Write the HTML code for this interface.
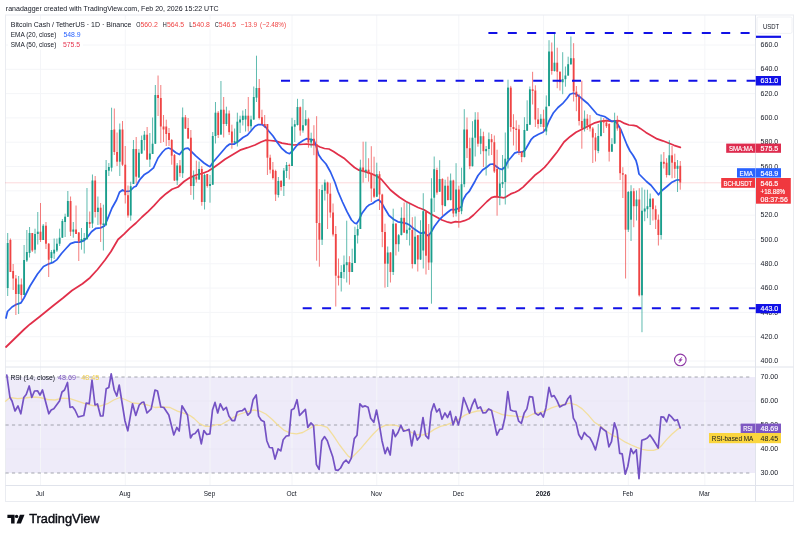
<!DOCTYPE html>
<html><head><meta charset="utf-8"><title>BCHUSDT chart</title>
<style>html,body{margin:0;padding:0;background:#fff;}body{width:800px;height:537px;overflow:hidden;font-family:"Liberation Sans",sans-serif;}svg{display:block;filter:blur(0.3px);}</style>
</head><body>
<svg width="800" height="537" viewBox="0 0 800 537" font-family="'Liberation Sans', sans-serif">
<rect width="800" height="537" fill="#ffffff"/>
<rect x="5.5" y="377.00" width="750.0" height="96.00" fill="#eeebf9"/>
<line x1="40.50" y1="15.0" x2="40.50" y2="485.5" stroke="#f4f5f8" stroke-width="1"/>
<line x1="125.25" y1="15.0" x2="125.25" y2="485.5" stroke="#f4f5f8" stroke-width="1"/>
<line x1="210.01" y1="15.0" x2="210.01" y2="485.5" stroke="#f4f5f8" stroke-width="1"/>
<line x1="292.03" y1="15.0" x2="292.03" y2="485.5" stroke="#f4f5f8" stroke-width="1"/>
<line x1="376.78" y1="15.0" x2="376.78" y2="485.5" stroke="#f4f5f8" stroke-width="1"/>
<line x1="458.80" y1="15.0" x2="458.80" y2="485.5" stroke="#f4f5f8" stroke-width="1"/>
<line x1="543.56" y1="15.0" x2="543.56" y2="485.5" stroke="#f4f5f8" stroke-width="1"/>
<line x1="628.31" y1="15.0" x2="628.31" y2="485.5" stroke="#f4f5f8" stroke-width="1"/>
<line x1="704.86" y1="15.0" x2="704.86" y2="485.5" stroke="#f4f5f8" stroke-width="1"/>
<line x1="5.5" y1="361.00" x2="755.5" y2="361.00" stroke="#f4f5f8" stroke-width="1"/>
<line x1="5.5" y1="336.70" x2="755.5" y2="336.70" stroke="#f4f5f8" stroke-width="1"/>
<line x1="5.5" y1="312.39" x2="755.5" y2="312.39" stroke="#f4f5f8" stroke-width="1"/>
<line x1="5.5" y1="288.08" x2="755.5" y2="288.08" stroke="#f4f5f8" stroke-width="1"/>
<line x1="5.5" y1="263.77" x2="755.5" y2="263.77" stroke="#f4f5f8" stroke-width="1"/>
<line x1="5.5" y1="239.46" x2="755.5" y2="239.46" stroke="#f4f5f8" stroke-width="1"/>
<line x1="5.5" y1="215.16" x2="755.5" y2="215.16" stroke="#f4f5f8" stroke-width="1"/>
<line x1="5.5" y1="190.85" x2="755.5" y2="190.85" stroke="#f4f5f8" stroke-width="1"/>
<line x1="5.5" y1="166.54" x2="755.5" y2="166.54" stroke="#f4f5f8" stroke-width="1"/>
<line x1="5.5" y1="142.23" x2="755.5" y2="142.23" stroke="#f4f5f8" stroke-width="1"/>
<line x1="5.5" y1="117.92" x2="755.5" y2="117.92" stroke="#f4f5f8" stroke-width="1"/>
<line x1="5.5" y1="93.62" x2="755.5" y2="93.62" stroke="#f4f5f8" stroke-width="1"/>
<line x1="5.5" y1="69.31" x2="755.5" y2="69.31" stroke="#f4f5f8" stroke-width="1"/>
<line x1="5.5" y1="45.00" x2="755.5" y2="45.00" stroke="#f4f5f8" stroke-width="1"/>
<line x1="5.5" y1="401.00" x2="755.5" y2="401.00" stroke="#e9e6f5" stroke-width="0.8"/>
<line x1="5.5" y1="449.00" x2="755.5" y2="449.00" stroke="#e9e6f5" stroke-width="0.8"/>
<rect x="5.5" y="15.0" width="788.0" height="486.5" fill="none" stroke="#eaecf1" stroke-width="1"/>
<line x1="755.5" y1="15.0" x2="755.5" y2="501.5" stroke="#e0e3eb" stroke-width="1"/>
<line x1="5.5" y1="367.0" x2="793.5" y2="367.0" stroke="#e0e3eb" stroke-width="1"/>
<line x1="5.5" y1="485.5" x2="793.5" y2="485.5" stroke="#e0e3eb" stroke-width="1"/>
<line x1="5.5" y1="377.00" x2="752.5" y2="377.00" stroke="#9497a1" stroke-opacity="0.85" stroke-width="1" stroke-dasharray="3.2 3.24"/>
<line x1="5.5" y1="425.00" x2="752.5" y2="425.00" stroke="#9497a1" stroke-opacity="0.85" stroke-width="1" stroke-dasharray="3.2 3.24"/>
<line x1="5.5" y1="473.00" x2="752.5" y2="473.00" stroke="#9497a1" stroke-opacity="0.85" stroke-width="1" stroke-dasharray="3.2 3.24"/>
<line x1="5.5" y1="182.8" x2="755.5" y2="182.8" stroke="#f23645" stroke-opacity="0.38" stroke-width="1" stroke-dasharray="1 1"/>
<polyline points="6.0,347.0 24.0,329.5 30.0,324.2 40.5,316.0 52.5,306.2 63.0,298.0 72.0,290.5 82.5,283.7 90.0,277.7 97.5,269.5 105.0,260.0 111.0,251.5 118.0,239.5 124.0,234.2 130.0,228.2 136.0,223.0 142.0,217.0 148.0,211.7 154.0,205.7 160.0,199.0 166.0,193.7 172.0,189.2 178.0,187.0 184.0,181.5 190.0,177.6 196.0,175.0 202.0,173.5 208.0,171.2 213.0,168.0 219.0,163.7 225.0,159.2 232.5,154.7 240.0,150.2 247.5,147.7 255.0,145.0 261.0,142.0 265.5,140.2 270.0,140.5 276.0,141.2 282.0,143.2 288.0,144.2 294.0,145.0 300.0,144.5 306.5,144.0 311.0,144.7 315.5,144.7 320.0,147.0 324.5,148.5 329.0,149.0 333.5,151.5 338.0,154.5 344.0,158.2 350.0,163.6 354.5,167.5 359.0,170.2 363.5,171.2 368.0,172.7 372.5,174.2 377.0,176.2 381.5,179.5 386.0,184.7 390.5,190.0 395.0,193.7 399.5,197.3 406.0,201.5 412.0,204.5 418.0,207.5 424.0,209.7 430.0,213.5 436.0,216.8 442.0,220.0 448.0,222.2 451.0,222.8 455.5,221.7 460.0,222.0 464.5,220.7 469.0,218.7 473.5,215.0 478.0,210.5 482.5,206.0 487.0,201.5 491.5,197.7 495.0,196.7 499.5,197.2 504.0,197.8 506.2,196.7 510.7,193.9 515.2,192.2 518.6,190.5 523.1,187.1 527.6,182.6 532.1,178.1 535.5,174.7 540.0,171.4 544.5,167.4 547.9,163.5 552.4,157.9 556.9,152.2 558.5,150.0 564.0,142.0 570.0,136.7 576.0,132.2 582.0,129.2 588.0,126.2 594.0,123.2 600.0,121.4 606.0,120.7 612.0,121.4 618.0,120.7 620.0,121.0 624.5,123.4 629.0,125.0 633.5,125.4 636.9,126.2 640.2,128.4 645.9,132.4 651.5,135.7 657.1,138.9 662.7,140.8 668.4,143.0 674.0,145.3 680.3,147.4" fill="none" stroke="#e12f49" stroke-width="1.75" stroke-opacity="1" stroke-linejoin="round" stroke-linecap="round" />
<polyline points="6.0,318.0 7.5,311.5 12.0,307.0 16.5,304.3 21.0,302.8 24.0,298.0 30.0,286.0 37.5,274.0 43.5,266.5 48.0,264.2 52.5,262.7 57.0,259.6 61.5,253.5 66.0,248.5 70.5,243.7 75.0,242.2 79.5,242.2 84.0,240.7 87.0,237.7 91.5,231.7 96.0,228.3 100.5,227.9 104.5,226.0 107.5,219.2 112.0,208.0 116.5,200.0 119.5,192.2 122.5,190.0 125.5,191.5 130.0,191.0 134.0,187.0 136.0,186.2 140.0,179.3 144.5,174.4 149.0,171.7 153.5,167.8 158.0,158.0 162.5,152.0 165.5,149.0 168.5,148.0 171.5,149.3 176.0,152.7 179.5,154.5 182.0,151.2 185.0,148.7 188.0,148.2 191.0,151.2 195.5,155.7 199.5,159.2 204.0,163.0 208.5,166.0 210.0,166.7 213.0,162.2 217.5,157.0 222.0,151.7 226.5,146.5 229.5,144.2 234.0,144.2 238.5,141.2 243.0,137.5 247.5,135.0 250.5,131.5 255.0,126.2 258.0,124.7 262.5,124.7 265.5,127.0 268.5,130.7 273.0,136.0 277.5,142.7 282.0,148.7 286.5,152.5 289.5,153.7 292.5,151.0 296.0,146.5 299.0,143.2 303.5,140.2 306.5,138.7 311.0,139.5 314.0,140.2 316.0,145.5 318.5,154.5 321.5,159.0 326.0,164.0 330.5,172.0 335.0,182.5 338.0,191.5 342.5,202.0 347.0,211.7 351.5,220.0 354.5,223.0 356.5,223.7 359.0,220.0 362.0,213.2 366.5,207.2 369.5,204.7 372.5,203.5 375.5,201.2 378.5,199.7 381.5,202.7 384.5,208.0 389.0,215.5 393.5,219.2 398.0,221.8 402.5,222.7 407.0,223.7 409.0,224.7 413.5,228.5 418.0,231.5 421.0,233.4 424.0,232.2 427.0,235.2 428.5,235.7 431.5,231.5 434.5,226.2 439.0,220.2 443.5,215.7 448.0,212.0 451.0,209.7 455.5,209.7 458.5,208.2 461.5,206.7 463.0,200.0 466.0,194.7 469.0,191.7 472.0,186.5 475.0,181.2 478.0,175.5 482.5,170.0 487.0,167.0 490.0,164.3 493.0,164.0 496.0,166.2 499.0,168.5 502.0,169.5 505.0,167.0 508.0,161.0 511.0,157.5 514.5,153.2 517.5,152.2 522.0,152.2 525.0,150.2 528.0,145.0 531.0,139.7 534.0,136.7 538.5,134.2 543.0,132.2 546.0,128.5 549.0,121.0 553.5,112.7 558.0,107.5 562.5,103.7 567.0,98.5 570.0,94.3 573.0,93.2 576.0,94.0 579.0,96.2 583.5,100.0 588.0,103.7 592.5,109.0 597.0,114.2 600.0,115.3 604.5,116.5 609.0,119.5 612.0,121.4 615.0,121.0 618.0,124.7 621.0,130.0 624.0,137.5 627.0,145.0 630.0,151.0 633.0,155.2 636.0,160.5 637.5,166.0 639.0,174.0 642.0,177.0 646.5,181.5 651.0,185.2 654.0,189.0 657.0,192.7 658.5,194.7 660.0,192.7 663.0,189.7 667.5,186.0 672.0,182.2 676.5,180.0 680.3,179.8" fill="none" stroke="#2d5cee" stroke-width="1.75" stroke-opacity="1" stroke-linejoin="round" stroke-linecap="round" />
<g id="candles">
<line x1="7.69" y1="233.0" x2="7.69" y2="296.0" stroke="#1a9e8c" stroke-width="0.9" stroke-opacity="0.78"/>
<rect x="6.77" y="243.0" width="1.84" height="45.0" fill="#1a9e8c"/>
<line x1="10.43" y1="238.5" x2="10.43" y2="272.0" stroke="#ef4444" stroke-width="0.9" stroke-opacity="0.78"/>
<rect x="9.51" y="240.0" width="1.84" height="32.0" fill="#ef4444"/>
<line x1="13.16" y1="264.0" x2="13.16" y2="290.0" stroke="#ef4444" stroke-width="0.9" stroke-opacity="0.78"/>
<rect x="12.24" y="271.0" width="1.84" height="7.5" fill="#ef4444"/>
<line x1="15.89" y1="275.0" x2="15.89" y2="315.0" stroke="#ef4444" stroke-width="0.9" stroke-opacity="0.78"/>
<rect x="14.97" y="278.5" width="1.84" height="15.5" fill="#ef4444"/>
<line x1="18.63" y1="276.0" x2="18.63" y2="314.0" stroke="#1a9e8c" stroke-width="0.9" stroke-opacity="0.78"/>
<rect x="17.71" y="284.5" width="1.84" height="9.5" fill="#1a9e8c"/>
<line x1="21.36" y1="278.5" x2="21.36" y2="300.0" stroke="#ef4444" stroke-width="0.9" stroke-opacity="0.78"/>
<rect x="20.44" y="284.5" width="1.84" height="10.5" fill="#ef4444"/>
<line x1="24.10" y1="245.0" x2="24.10" y2="295.0" stroke="#1a9e8c" stroke-width="0.9" stroke-opacity="0.78"/>
<rect x="23.18" y="260.0" width="1.84" height="35.0" fill="#1a9e8c"/>
<line x1="26.83" y1="230.0" x2="26.83" y2="262.0" stroke="#1a9e8c" stroke-width="0.9" stroke-opacity="0.78"/>
<rect x="25.91" y="252.0" width="1.84" height="8.5" fill="#1a9e8c"/>
<line x1="29.56" y1="227.0" x2="29.56" y2="257.5" stroke="#1a9e8c" stroke-width="0.9" stroke-opacity="0.78"/>
<rect x="28.64" y="233.0" width="1.84" height="20.0" fill="#1a9e8c"/>
<line x1="32.30" y1="233.0" x2="32.30" y2="252.0" stroke="#ef4444" stroke-width="0.9" stroke-opacity="0.78"/>
<rect x="31.38" y="233.0" width="1.84" height="17.5" fill="#ef4444"/>
<line x1="35.03" y1="228.7" x2="35.03" y2="253.5" stroke="#1a9e8c" stroke-width="0.9" stroke-opacity="0.78"/>
<rect x="34.11" y="234.0" width="1.84" height="15.7" fill="#1a9e8c"/>
<line x1="37.77" y1="212.0" x2="37.77" y2="244.5" stroke="#1a9e8c" stroke-width="0.9" stroke-opacity="0.78"/>
<rect x="36.85" y="231.7" width="1.84" height="2.3" fill="#1a9e8c"/>
<line x1="40.50" y1="203.0" x2="40.50" y2="242.0" stroke="#ef4444" stroke-width="0.9" stroke-opacity="0.78"/>
<rect x="39.58" y="231.7" width="1.84" height="8.3" fill="#ef4444"/>
<line x1="43.23" y1="224.0" x2="43.23" y2="240.0" stroke="#1a9e8c" stroke-width="0.9" stroke-opacity="0.78"/>
<rect x="42.31" y="225.7" width="1.84" height="14.3" fill="#1a9e8c"/>
<line x1="45.97" y1="222.0" x2="45.97" y2="249.0" stroke="#ef4444" stroke-width="0.9" stroke-opacity="0.78"/>
<rect x="45.05" y="225.7" width="1.84" height="18.0" fill="#ef4444"/>
<line x1="48.70" y1="243.0" x2="48.70" y2="277.0" stroke="#ef4444" stroke-width="0.9" stroke-opacity="0.78"/>
<rect x="47.78" y="243.7" width="1.84" height="16.0" fill="#ef4444"/>
<line x1="51.44" y1="250.0" x2="51.44" y2="262.7" stroke="#1a9e8c" stroke-width="0.9" stroke-opacity="0.78"/>
<rect x="50.52" y="252.0" width="1.84" height="6.0" fill="#1a9e8c"/>
<line x1="54.17" y1="238.5" x2="54.17" y2="259.0" stroke="#1a9e8c" stroke-width="0.9" stroke-opacity="0.78"/>
<rect x="53.25" y="249.7" width="1.84" height="3.8" fill="#1a9e8c"/>
<line x1="56.90" y1="238.5" x2="56.90" y2="252.0" stroke="#1a9e8c" stroke-width="0.9" stroke-opacity="0.78"/>
<rect x="55.98" y="243.7" width="1.84" height="6.8" fill="#1a9e8c"/>
<line x1="59.64" y1="228.7" x2="59.64" y2="246.0" stroke="#1a9e8c" stroke-width="0.9" stroke-opacity="0.78"/>
<rect x="58.72" y="237.7" width="1.84" height="6.0" fill="#1a9e8c"/>
<line x1="62.37" y1="219.0" x2="62.37" y2="238.0" stroke="#1a9e8c" stroke-width="0.9" stroke-opacity="0.78"/>
<rect x="61.45" y="221.0" width="1.84" height="16.7" fill="#1a9e8c"/>
<line x1="65.11" y1="213.7" x2="65.11" y2="237.0" stroke="#1a9e8c" stroke-width="0.9" stroke-opacity="0.78"/>
<rect x="64.19" y="216.7" width="1.84" height="5.3" fill="#1a9e8c"/>
<line x1="67.84" y1="191.0" x2="67.84" y2="217.0" stroke="#1a9e8c" stroke-width="0.9" stroke-opacity="0.78"/>
<rect x="66.92" y="201.0" width="1.84" height="15.7" fill="#1a9e8c"/>
<line x1="70.57" y1="196.5" x2="70.57" y2="236.0" stroke="#ef4444" stroke-width="0.9" stroke-opacity="0.78"/>
<rect x="69.65" y="201.0" width="1.84" height="30.7" fill="#ef4444"/>
<line x1="73.31" y1="222.0" x2="73.31" y2="237.7" stroke="#1a9e8c" stroke-width="0.9" stroke-opacity="0.78"/>
<rect x="72.39" y="229.5" width="1.84" height="2.2" fill="#1a9e8c"/>
<line x1="76.04" y1="205.5" x2="76.04" y2="234.0" stroke="#ef4444" stroke-width="0.9" stroke-opacity="0.78"/>
<rect x="75.12" y="229.5" width="1.84" height="4.5" fill="#ef4444"/>
<line x1="78.78" y1="232.0" x2="78.78" y2="261.0" stroke="#ef4444" stroke-width="0.9" stroke-opacity="0.78"/>
<rect x="77.86" y="232.5" width="1.84" height="9.0" fill="#ef4444"/>
<line x1="81.51" y1="228.0" x2="81.51" y2="249.7" stroke="#1a9e8c" stroke-width="0.9" stroke-opacity="0.78"/>
<rect x="80.59" y="239.0" width="1.84" height="2.5" fill="#1a9e8c"/>
<line x1="84.24" y1="233.0" x2="84.24" y2="253.5" stroke="#1a9e8c" stroke-width="0.9" stroke-opacity="0.78"/>
<rect x="83.32" y="238.0" width="1.84" height="2.0" fill="#1a9e8c"/>
<line x1="86.98" y1="188.0" x2="86.98" y2="240.0" stroke="#1a9e8c" stroke-width="0.9" stroke-opacity="0.78"/>
<rect x="86.06" y="222.0" width="1.84" height="17.0" fill="#1a9e8c"/>
<line x1="89.71" y1="211.5" x2="89.71" y2="228.0" stroke="#ef4444" stroke-width="0.9" stroke-opacity="0.78"/>
<rect x="88.79" y="222.0" width="1.84" height="2.0" fill="#ef4444"/>
<line x1="92.45" y1="174.5" x2="92.45" y2="228.0" stroke="#1a9e8c" stroke-width="0.9" stroke-opacity="0.78"/>
<rect x="91.53" y="180.5" width="1.84" height="43.0" fill="#1a9e8c"/>
<line x1="95.18" y1="176.0" x2="95.18" y2="217.5" stroke="#ef4444" stroke-width="0.9" stroke-opacity="0.78"/>
<rect x="94.26" y="180.5" width="1.84" height="31.5" fill="#ef4444"/>
<line x1="97.91" y1="196.5" x2="97.91" y2="225.0" stroke="#1a9e8c" stroke-width="0.9" stroke-opacity="0.78"/>
<rect x="96.99" y="207.7" width="1.84" height="4.3" fill="#1a9e8c"/>
<line x1="100.65" y1="203.0" x2="100.65" y2="242.0" stroke="#ef4444" stroke-width="0.9" stroke-opacity="0.78"/>
<rect x="99.73" y="207.7" width="1.84" height="16.8" fill="#ef4444"/>
<line x1="103.38" y1="204.7" x2="103.38" y2="250.5" stroke="#1a9e8c" stroke-width="0.9" stroke-opacity="0.78"/>
<rect x="102.46" y="223.5" width="1.84" height="1.5" fill="#1a9e8c"/>
<line x1="106.12" y1="160.0" x2="106.12" y2="226.0" stroke="#1a9e8c" stroke-width="0.9" stroke-opacity="0.78"/>
<rect x="105.20" y="170.0" width="1.84" height="55.0" fill="#1a9e8c"/>
<line x1="108.85" y1="163.0" x2="108.85" y2="176.0" stroke="#1a9e8c" stroke-width="0.9" stroke-opacity="0.78"/>
<rect x="107.93" y="167.0" width="1.84" height="3.7" fill="#1a9e8c"/>
<line x1="111.58" y1="107.7" x2="111.58" y2="171.5" stroke="#1a9e8c" stroke-width="0.9" stroke-opacity="0.78"/>
<rect x="110.66" y="130.0" width="1.84" height="37.7" fill="#1a9e8c"/>
<line x1="114.32" y1="108.5" x2="114.32" y2="155.0" stroke="#ef4444" stroke-width="0.9" stroke-opacity="0.78"/>
<rect x="113.40" y="129.5" width="1.84" height="22.5" fill="#ef4444"/>
<line x1="117.05" y1="132.5" x2="117.05" y2="166.0" stroke="#ef4444" stroke-width="0.9" stroke-opacity="0.78"/>
<rect x="116.13" y="152.0" width="1.84" height="9.7" fill="#ef4444"/>
<line x1="119.79" y1="123.5" x2="119.79" y2="176.0" stroke="#1a9e8c" stroke-width="0.9" stroke-opacity="0.78"/>
<rect x="118.87" y="129.5" width="1.84" height="32.2" fill="#1a9e8c"/>
<line x1="122.52" y1="121.0" x2="122.52" y2="166.0" stroke="#ef4444" stroke-width="0.9" stroke-opacity="0.78"/>
<rect x="121.60" y="129.5" width="1.84" height="35.2" fill="#ef4444"/>
<line x1="125.25" y1="146.0" x2="125.25" y2="203.5" stroke="#ef4444" stroke-width="0.9" stroke-opacity="0.78"/>
<rect x="124.33" y="164.7" width="1.84" height="30.5" fill="#ef4444"/>
<line x1="127.99" y1="185.5" x2="127.99" y2="217.7" stroke="#ef4444" stroke-width="0.9" stroke-opacity="0.78"/>
<rect x="127.07" y="195.2" width="1.84" height="20.3" fill="#ef4444"/>
<line x1="130.72" y1="181.7" x2="130.72" y2="220.7" stroke="#1a9e8c" stroke-width="0.9" stroke-opacity="0.78"/>
<rect x="129.80" y="186.2" width="1.84" height="29.3" fill="#1a9e8c"/>
<line x1="133.46" y1="140.0" x2="133.46" y2="184.0" stroke="#1a9e8c" stroke-width="0.9" stroke-opacity="0.78"/>
<rect x="132.54" y="149.0" width="1.84" height="35.0" fill="#1a9e8c"/>
<line x1="136.19" y1="137.0" x2="136.19" y2="183.5" stroke="#ef4444" stroke-width="0.9" stroke-opacity="0.78"/>
<rect x="135.27" y="149.0" width="1.84" height="27.7" fill="#ef4444"/>
<line x1="138.92" y1="149.0" x2="138.92" y2="178.0" stroke="#1a9e8c" stroke-width="0.9" stroke-opacity="0.78"/>
<rect x="138.00" y="152.7" width="1.84" height="24.8" fill="#1a9e8c"/>
<line x1="141.66" y1="135.5" x2="141.66" y2="154.0" stroke="#1a9e8c" stroke-width="0.9" stroke-opacity="0.78"/>
<rect x="140.74" y="140.0" width="1.84" height="13.5" fill="#1a9e8c"/>
<line x1="144.39" y1="131.0" x2="144.39" y2="150.5" stroke="#1a9e8c" stroke-width="0.9" stroke-opacity="0.78"/>
<rect x="143.47" y="134.7" width="1.84" height="5.3" fill="#1a9e8c"/>
<line x1="147.13" y1="127.0" x2="147.13" y2="160.0" stroke="#ef4444" stroke-width="0.9" stroke-opacity="0.78"/>
<rect x="146.21" y="134.7" width="1.84" height="24.8" fill="#ef4444"/>
<line x1="149.86" y1="133.0" x2="149.86" y2="167.0" stroke="#1a9e8c" stroke-width="0.9" stroke-opacity="0.78"/>
<rect x="148.94" y="153.5" width="1.84" height="6.0" fill="#1a9e8c"/>
<line x1="152.59" y1="117.5" x2="152.59" y2="154.0" stroke="#1a9e8c" stroke-width="0.9" stroke-opacity="0.78"/>
<rect x="151.67" y="143.7" width="1.84" height="10.3" fill="#1a9e8c"/>
<line x1="155.33" y1="85.0" x2="155.33" y2="144.0" stroke="#1a9e8c" stroke-width="0.9" stroke-opacity="0.78"/>
<rect x="154.41" y="95.0" width="1.84" height="48.7" fill="#1a9e8c"/>
<line x1="158.06" y1="75.5" x2="158.06" y2="116.0" stroke="#ef4444" stroke-width="0.9" stroke-opacity="0.78"/>
<rect x="157.14" y="95.0" width="1.84" height="3.0" fill="#ef4444"/>
<line x1="160.80" y1="85.0" x2="160.80" y2="143.0" stroke="#ef4444" stroke-width="0.9" stroke-opacity="0.78"/>
<rect x="159.88" y="98.0" width="1.84" height="28.5" fill="#ef4444"/>
<line x1="163.53" y1="115.0" x2="163.53" y2="142.0" stroke="#ef4444" stroke-width="0.9" stroke-opacity="0.78"/>
<rect x="162.61" y="126.5" width="1.84" height="3.0" fill="#ef4444"/>
<line x1="166.26" y1="119.7" x2="166.26" y2="146.0" stroke="#ef4444" stroke-width="0.9" stroke-opacity="0.78"/>
<rect x="165.34" y="126.5" width="1.84" height="7.5" fill="#ef4444"/>
<line x1="169.00" y1="128.0" x2="169.00" y2="146.0" stroke="#ef4444" stroke-width="0.9" stroke-opacity="0.78"/>
<rect x="168.08" y="133.0" width="1.84" height="7.0" fill="#ef4444"/>
<line x1="171.73" y1="139.0" x2="171.73" y2="164.7" stroke="#ef4444" stroke-width="0.9" stroke-opacity="0.78"/>
<rect x="170.81" y="140.0" width="1.84" height="15.7" fill="#ef4444"/>
<line x1="174.47" y1="154.0" x2="174.47" y2="181.0" stroke="#ef4444" stroke-width="0.9" stroke-opacity="0.78"/>
<rect x="173.55" y="155.0" width="1.84" height="25.5" fill="#ef4444"/>
<line x1="177.20" y1="163.0" x2="177.20" y2="185.0" stroke="#1a9e8c" stroke-width="0.9" stroke-opacity="0.78"/>
<rect x="176.28" y="165.5" width="1.84" height="15.0" fill="#1a9e8c"/>
<line x1="179.93" y1="160.0" x2="179.93" y2="176.7" stroke="#ef4444" stroke-width="0.9" stroke-opacity="0.78"/>
<rect x="179.01" y="165.5" width="1.84" height="7.5" fill="#ef4444"/>
<line x1="182.67" y1="107.5" x2="182.67" y2="178.0" stroke="#1a9e8c" stroke-width="0.9" stroke-opacity="0.78"/>
<rect x="181.75" y="117.3" width="1.84" height="55.9" fill="#1a9e8c"/>
<line x1="185.40" y1="115.0" x2="185.40" y2="129.0" stroke="#ef4444" stroke-width="0.9" stroke-opacity="0.78"/>
<rect x="184.48" y="117.3" width="1.84" height="11.3" fill="#ef4444"/>
<line x1="188.14" y1="118.0" x2="188.14" y2="139.0" stroke="#ef4444" stroke-width="0.9" stroke-opacity="0.78"/>
<rect x="187.22" y="128.0" width="1.84" height="10.5" fill="#ef4444"/>
<line x1="190.87" y1="130.0" x2="190.87" y2="195.0" stroke="#ef4444" stroke-width="0.9" stroke-opacity="0.78"/>
<rect x="189.95" y="137.7" width="1.84" height="48.3" fill="#ef4444"/>
<line x1="193.60" y1="170.5" x2="193.60" y2="199.7" stroke="#1a9e8c" stroke-width="0.9" stroke-opacity="0.78"/>
<rect x="192.68" y="176.5" width="1.84" height="9.5" fill="#1a9e8c"/>
<line x1="196.34" y1="160.7" x2="196.34" y2="182.5" stroke="#ef4444" stroke-width="0.9" stroke-opacity="0.78"/>
<rect x="195.42" y="176.5" width="1.84" height="3.0" fill="#ef4444"/>
<line x1="199.07" y1="161.5" x2="199.07" y2="180.0" stroke="#1a9e8c" stroke-width="0.9" stroke-opacity="0.78"/>
<rect x="198.15" y="169.0" width="1.84" height="10.5" fill="#1a9e8c"/>
<line x1="201.81" y1="166.0" x2="201.81" y2="205.7" stroke="#ef4444" stroke-width="0.9" stroke-opacity="0.78"/>
<rect x="200.89" y="169.0" width="1.84" height="33.0" fill="#ef4444"/>
<line x1="204.54" y1="173.5" x2="204.54" y2="209.5" stroke="#1a9e8c" stroke-width="0.9" stroke-opacity="0.78"/>
<rect x="203.62" y="175.0" width="1.84" height="27.0" fill="#1a9e8c"/>
<line x1="207.27" y1="174.0" x2="207.27" y2="187.7" stroke="#ef4444" stroke-width="0.9" stroke-opacity="0.78"/>
<rect x="206.35" y="174.0" width="1.84" height="12.0" fill="#ef4444"/>
<line x1="210.01" y1="175.0" x2="210.01" y2="202.7" stroke="#1a9e8c" stroke-width="0.9" stroke-opacity="0.78"/>
<rect x="209.09" y="184.0" width="1.84" height="2.0" fill="#1a9e8c"/>
<line x1="212.74" y1="132.0" x2="212.74" y2="185.0" stroke="#1a9e8c" stroke-width="0.9" stroke-opacity="0.78"/>
<rect x="211.82" y="136.0" width="1.84" height="48.7" fill="#1a9e8c"/>
<line x1="215.48" y1="102.0" x2="215.48" y2="143.5" stroke="#1a9e8c" stroke-width="0.9" stroke-opacity="0.78"/>
<rect x="214.56" y="112.7" width="1.84" height="23.3" fill="#1a9e8c"/>
<line x1="218.21" y1="111.0" x2="218.21" y2="138.0" stroke="#ef4444" stroke-width="0.9" stroke-opacity="0.78"/>
<rect x="217.29" y="112.7" width="1.84" height="22.3" fill="#ef4444"/>
<line x1="220.94" y1="81.0" x2="220.94" y2="135.0" stroke="#1a9e8c" stroke-width="0.9" stroke-opacity="0.78"/>
<rect x="220.02" y="109.7" width="1.84" height="24.8" fill="#1a9e8c"/>
<line x1="223.68" y1="97.0" x2="223.68" y2="137.5" stroke="#ef4444" stroke-width="0.9" stroke-opacity="0.78"/>
<rect x="222.76" y="109.7" width="1.84" height="14.3" fill="#ef4444"/>
<line x1="226.41" y1="106.7" x2="226.41" y2="126.0" stroke="#1a9e8c" stroke-width="0.9" stroke-opacity="0.78"/>
<rect x="225.49" y="113.5" width="1.84" height="10.5" fill="#1a9e8c"/>
<line x1="229.15" y1="110.5" x2="229.15" y2="135.0" stroke="#ef4444" stroke-width="0.9" stroke-opacity="0.78"/>
<rect x="228.23" y="113.5" width="1.84" height="18.7" fill="#ef4444"/>
<line x1="231.88" y1="124.7" x2="231.88" y2="148.7" stroke="#ef4444" stroke-width="0.9" stroke-opacity="0.78"/>
<rect x="230.96" y="131.5" width="1.84" height="11.2" fill="#ef4444"/>
<line x1="234.61" y1="128.5" x2="234.61" y2="143.0" stroke="#1a9e8c" stroke-width="0.9" stroke-opacity="0.78"/>
<rect x="233.69" y="141.2" width="1.84" height="1.5" fill="#1a9e8c"/>
<line x1="237.35" y1="112.7" x2="237.35" y2="146.5" stroke="#1a9e8c" stroke-width="0.9" stroke-opacity="0.78"/>
<rect x="236.43" y="121.7" width="1.84" height="21.0" fill="#1a9e8c"/>
<line x1="240.08" y1="115.7" x2="240.08" y2="133.0" stroke="#1a9e8c" stroke-width="0.9" stroke-opacity="0.78"/>
<rect x="239.16" y="119.5" width="1.84" height="3.0" fill="#1a9e8c"/>
<line x1="242.82" y1="110.5" x2="242.82" y2="125.5" stroke="#1a9e8c" stroke-width="0.9" stroke-opacity="0.78"/>
<rect x="241.90" y="115.7" width="1.84" height="4.3" fill="#1a9e8c"/>
<line x1="245.55" y1="109.0" x2="245.55" y2="131.5" stroke="#1a9e8c" stroke-width="0.9" stroke-opacity="0.78"/>
<rect x="244.63" y="115.7" width="1.84" height="3.8" fill="#1a9e8c"/>
<line x1="248.28" y1="97.0" x2="248.28" y2="131.5" stroke="#ef4444" stroke-width="0.9" stroke-opacity="0.78"/>
<rect x="247.36" y="115.7" width="1.84" height="10.5" fill="#ef4444"/>
<line x1="251.02" y1="115.7" x2="251.02" y2="130.0" stroke="#1a9e8c" stroke-width="0.9" stroke-opacity="0.78"/>
<rect x="250.10" y="119.5" width="1.84" height="6.7" fill="#1a9e8c"/>
<line x1="253.75" y1="86.5" x2="253.75" y2="120.0" stroke="#1a9e8c" stroke-width="0.9" stroke-opacity="0.78"/>
<rect x="252.83" y="97.0" width="1.84" height="22.5" fill="#1a9e8c"/>
<line x1="256.49" y1="55.7" x2="256.49" y2="102.0" stroke="#1a9e8c" stroke-width="0.9" stroke-opacity="0.78"/>
<rect x="255.57" y="88.0" width="1.84" height="9.7" fill="#1a9e8c"/>
<line x1="259.22" y1="79.0" x2="259.22" y2="119.5" stroke="#ef4444" stroke-width="0.9" stroke-opacity="0.78"/>
<rect x="258.30" y="88.0" width="1.84" height="30.0" fill="#ef4444"/>
<line x1="261.95" y1="109.7" x2="261.95" y2="125.0" stroke="#ef4444" stroke-width="0.9" stroke-opacity="0.78"/>
<rect x="261.03" y="117.2" width="1.84" height="6.8" fill="#ef4444"/>
<line x1="264.69" y1="115.0" x2="264.69" y2="128.0" stroke="#ef4444" stroke-width="0.9" stroke-opacity="0.78"/>
<rect x="263.77" y="124.0" width="1.84" height="2.0" fill="#ef4444"/>
<line x1="267.42" y1="124.0" x2="267.42" y2="175.0" stroke="#ef4444" stroke-width="0.9" stroke-opacity="0.78"/>
<rect x="266.50" y="124.0" width="1.84" height="33.7" fill="#ef4444"/>
<line x1="270.16" y1="154.7" x2="270.16" y2="173.5" stroke="#ef4444" stroke-width="0.9" stroke-opacity="0.78"/>
<rect x="269.24" y="157.7" width="1.84" height="12.0" fill="#ef4444"/>
<line x1="272.89" y1="162.0" x2="272.89" y2="179.5" stroke="#ef4444" stroke-width="0.9" stroke-opacity="0.78"/>
<rect x="271.97" y="169.7" width="1.84" height="8.3" fill="#ef4444"/>
<line x1="275.62" y1="169.7" x2="275.62" y2="201.0" stroke="#ef4444" stroke-width="0.9" stroke-opacity="0.78"/>
<rect x="274.70" y="171.0" width="1.84" height="23.5" fill="#ef4444"/>
<line x1="278.36" y1="177.0" x2="278.36" y2="197.5" stroke="#1a9e8c" stroke-width="0.9" stroke-opacity="0.78"/>
<rect x="277.44" y="181.0" width="1.84" height="14.0" fill="#1a9e8c"/>
<line x1="281.09" y1="180.0" x2="281.09" y2="190.7" stroke="#ef4444" stroke-width="0.9" stroke-opacity="0.78"/>
<rect x="280.17" y="181.0" width="1.84" height="6.0" fill="#ef4444"/>
<line x1="283.83" y1="168.0" x2="283.83" y2="196.0" stroke="#1a9e8c" stroke-width="0.9" stroke-opacity="0.78"/>
<rect x="282.91" y="170.5" width="1.84" height="15.5" fill="#1a9e8c"/>
<line x1="286.56" y1="162.0" x2="286.56" y2="178.0" stroke="#1a9e8c" stroke-width="0.9" stroke-opacity="0.78"/>
<rect x="285.64" y="165.0" width="1.84" height="6.0" fill="#1a9e8c"/>
<line x1="289.29" y1="163.7" x2="289.29" y2="179.5" stroke="#ef4444" stroke-width="0.9" stroke-opacity="0.78"/>
<rect x="288.37" y="165.0" width="1.84" height="1.0" fill="#ef4444"/>
<line x1="292.03" y1="117.8" x2="292.03" y2="166.0" stroke="#1a9e8c" stroke-width="0.9" stroke-opacity="0.78"/>
<rect x="291.11" y="126.5" width="1.84" height="39.5" fill="#1a9e8c"/>
<line x1="294.76" y1="120.0" x2="294.76" y2="142.0" stroke="#1a9e8c" stroke-width="0.9" stroke-opacity="0.78"/>
<rect x="293.84" y="124.2" width="1.84" height="2.5" fill="#1a9e8c"/>
<line x1="297.50" y1="98.8" x2="297.50" y2="125.5" stroke="#1a9e8c" stroke-width="0.9" stroke-opacity="0.78"/>
<rect x="296.58" y="107.0" width="1.84" height="18.0" fill="#1a9e8c"/>
<line x1="300.23" y1="106.5" x2="300.23" y2="135.7" stroke="#ef4444" stroke-width="0.9" stroke-opacity="0.78"/>
<rect x="299.31" y="107.2" width="1.84" height="23.3" fill="#ef4444"/>
<line x1="302.96" y1="99.0" x2="302.96" y2="132.7" stroke="#1a9e8c" stroke-width="0.9" stroke-opacity="0.78"/>
<rect x="302.04" y="125.2" width="1.84" height="5.3" fill="#1a9e8c"/>
<line x1="305.70" y1="110.2" x2="305.70" y2="126.0" stroke="#1a9e8c" stroke-width="0.9" stroke-opacity="0.78"/>
<rect x="304.78" y="119.2" width="1.84" height="6.0" fill="#1a9e8c"/>
<line x1="308.43" y1="117.7" x2="308.43" y2="147.7" stroke="#ef4444" stroke-width="0.9" stroke-opacity="0.78"/>
<rect x="307.51" y="119.2" width="1.84" height="23.3" fill="#ef4444"/>
<line x1="311.17" y1="132.7" x2="311.17" y2="147.7" stroke="#1a9e8c" stroke-width="0.9" stroke-opacity="0.78"/>
<rect x="310.25" y="138.7" width="1.84" height="3.8" fill="#1a9e8c"/>
<line x1="313.90" y1="125.2" x2="313.90" y2="155.2" stroke="#ef4444" stroke-width="0.9" stroke-opacity="0.78"/>
<rect x="312.98" y="138.7" width="1.84" height="5.3" fill="#ef4444"/>
<line x1="316.63" y1="116.2" x2="316.63" y2="260.7" stroke="#ef4444" stroke-width="0.9" stroke-opacity="0.78"/>
<rect x="315.71" y="144.0" width="1.84" height="79.0" fill="#ef4444"/>
<line x1="319.37" y1="189.0" x2="319.37" y2="266.7" stroke="#ef4444" stroke-width="0.9" stroke-opacity="0.78"/>
<rect x="318.45" y="223.0" width="1.84" height="16.7" fill="#ef4444"/>
<line x1="322.10" y1="184.7" x2="322.10" y2="245.0" stroke="#1a9e8c" stroke-width="0.9" stroke-opacity="0.78"/>
<rect x="321.18" y="190.0" width="1.84" height="49.7" fill="#1a9e8c"/>
<line x1="324.84" y1="179.5" x2="324.84" y2="200.5" stroke="#1a9e8c" stroke-width="0.9" stroke-opacity="0.78"/>
<rect x="323.92" y="182.5" width="1.84" height="8.2" fill="#1a9e8c"/>
<line x1="327.57" y1="181.7" x2="327.57" y2="229.0" stroke="#ef4444" stroke-width="0.9" stroke-opacity="0.78"/>
<rect x="326.65" y="182.5" width="1.84" height="11.2" fill="#ef4444"/>
<line x1="330.30" y1="183.2" x2="330.30" y2="217.7" stroke="#ef4444" stroke-width="0.9" stroke-opacity="0.78"/>
<rect x="329.38" y="193.7" width="1.84" height="18.8" fill="#ef4444"/>
<line x1="333.04" y1="203.5" x2="333.04" y2="236.5" stroke="#ef4444" stroke-width="0.9" stroke-opacity="0.78"/>
<rect x="332.12" y="212.5" width="1.84" height="22.0" fill="#ef4444"/>
<line x1="335.77" y1="226.0" x2="335.77" y2="306.5" stroke="#ef4444" stroke-width="0.9" stroke-opacity="0.78"/>
<rect x="334.85" y="234.0" width="1.84" height="41.7" fill="#ef4444"/>
<line x1="338.51" y1="258.5" x2="338.51" y2="285.5" stroke="#ef4444" stroke-width="0.9" stroke-opacity="0.78"/>
<rect x="337.59" y="275.7" width="1.84" height="2.3" fill="#ef4444"/>
<line x1="341.24" y1="265.2" x2="341.24" y2="291.5" stroke="#1a9e8c" stroke-width="0.9" stroke-opacity="0.78"/>
<rect x="340.32" y="272.0" width="1.84" height="6.0" fill="#1a9e8c"/>
<line x1="343.97" y1="255.5" x2="343.97" y2="278.7" stroke="#1a9e8c" stroke-width="0.9" stroke-opacity="0.78"/>
<rect x="343.05" y="264.5" width="1.84" height="7.5" fill="#1a9e8c"/>
<line x1="346.71" y1="220.7" x2="346.71" y2="282.5" stroke="#1a9e8c" stroke-width="0.9" stroke-opacity="0.78"/>
<rect x="345.79" y="262.2" width="1.84" height="3.0" fill="#1a9e8c"/>
<line x1="349.44" y1="256.2" x2="349.44" y2="284.7" stroke="#ef4444" stroke-width="0.9" stroke-opacity="0.78"/>
<rect x="348.52" y="262.2" width="1.84" height="9.8" fill="#ef4444"/>
<line x1="352.18" y1="248.7" x2="352.18" y2="272.0" stroke="#1a9e8c" stroke-width="0.9" stroke-opacity="0.78"/>
<rect x="351.26" y="263.0" width="1.84" height="9.0" fill="#1a9e8c"/>
<line x1="354.91" y1="226.7" x2="354.91" y2="263.0" stroke="#1a9e8c" stroke-width="0.9" stroke-opacity="0.78"/>
<rect x="353.99" y="235.0" width="1.84" height="28.0" fill="#1a9e8c"/>
<line x1="357.64" y1="224.5" x2="357.64" y2="243.5" stroke="#1a9e8c" stroke-width="0.9" stroke-opacity="0.78"/>
<rect x="356.72" y="229.0" width="1.84" height="6.5" fill="#1a9e8c"/>
<line x1="360.38" y1="159.7" x2="360.38" y2="229.0" stroke="#1a9e8c" stroke-width="0.9" stroke-opacity="0.78"/>
<rect x="359.46" y="167.5" width="1.84" height="61.5" fill="#1a9e8c"/>
<line x1="363.11" y1="141.7" x2="363.11" y2="182.5" stroke="#ef4444" stroke-width="0.9" stroke-opacity="0.78"/>
<rect x="362.19" y="167.5" width="1.84" height="3.7" fill="#ef4444"/>
<line x1="365.85" y1="141.7" x2="365.85" y2="178.0" stroke="#1a9e8c" stroke-width="0.9" stroke-opacity="0.78"/>
<rect x="364.93" y="169.7" width="1.84" height="1.5" fill="#1a9e8c"/>
<line x1="368.58" y1="158.2" x2="368.58" y2="181.7" stroke="#ef4444" stroke-width="0.9" stroke-opacity="0.78"/>
<rect x="367.66" y="169.7" width="1.84" height="3.8" fill="#ef4444"/>
<line x1="371.31" y1="146.2" x2="371.31" y2="202.0" stroke="#ef4444" stroke-width="0.9" stroke-opacity="0.78"/>
<rect x="370.39" y="173.5" width="1.84" height="15.0" fill="#ef4444"/>
<line x1="374.05" y1="156.7" x2="374.05" y2="198.0" stroke="#ef4444" stroke-width="0.9" stroke-opacity="0.78"/>
<rect x="373.13" y="188.5" width="1.84" height="8.2" fill="#ef4444"/>
<line x1="376.78" y1="162.7" x2="376.78" y2="197.0" stroke="#1a9e8c" stroke-width="0.9" stroke-opacity="0.78"/>
<rect x="375.86" y="174.2" width="1.84" height="22.5" fill="#1a9e8c"/>
<line x1="379.52" y1="171.2" x2="379.52" y2="210.0" stroke="#ef4444" stroke-width="0.9" stroke-opacity="0.78"/>
<rect x="378.60" y="174.2" width="1.84" height="20.3" fill="#ef4444"/>
<line x1="382.25" y1="193.7" x2="382.25" y2="247.2" stroke="#ef4444" stroke-width="0.9" stroke-opacity="0.78"/>
<rect x="381.33" y="194.5" width="1.84" height="37.5" fill="#ef4444"/>
<line x1="384.98" y1="223.7" x2="384.98" y2="287.7" stroke="#ef4444" stroke-width="0.9" stroke-opacity="0.78"/>
<rect x="384.06" y="232.0" width="1.84" height="31.7" fill="#ef4444"/>
<line x1="387.72" y1="246.5" x2="387.72" y2="287.0" stroke="#1a9e8c" stroke-width="0.9" stroke-opacity="0.78"/>
<rect x="386.80" y="252.5" width="1.84" height="11.2" fill="#1a9e8c"/>
<line x1="390.45" y1="252.0" x2="390.45" y2="282.5" stroke="#ef4444" stroke-width="0.9" stroke-opacity="0.78"/>
<rect x="389.53" y="252.5" width="1.84" height="19.5" fill="#ef4444"/>
<line x1="393.19" y1="208.7" x2="393.19" y2="275.0" stroke="#1a9e8c" stroke-width="0.9" stroke-opacity="0.78"/>
<rect x="392.27" y="223.7" width="1.84" height="48.3" fill="#1a9e8c"/>
<line x1="395.92" y1="223.0" x2="395.92" y2="255.5" stroke="#ef4444" stroke-width="0.9" stroke-opacity="0.78"/>
<rect x="395.00" y="223.7" width="1.84" height="20.5" fill="#ef4444"/>
<line x1="398.65" y1="234.0" x2="398.65" y2="251.7" stroke="#1a9e8c" stroke-width="0.9" stroke-opacity="0.78"/>
<rect x="397.73" y="235.2" width="1.84" height="9.0" fill="#1a9e8c"/>
<line x1="401.39" y1="207.3" x2="401.39" y2="235.5" stroke="#1a9e8c" stroke-width="0.9" stroke-opacity="0.78"/>
<rect x="400.47" y="217.8" width="1.84" height="17.2" fill="#1a9e8c"/>
<line x1="404.12" y1="202.5" x2="404.12" y2="233.0" stroke="#ef4444" stroke-width="0.9" stroke-opacity="0.78"/>
<rect x="403.20" y="217.8" width="1.84" height="14.8" fill="#ef4444"/>
<line x1="406.86" y1="202.5" x2="406.86" y2="240.0" stroke="#1a9e8c" stroke-width="0.9" stroke-opacity="0.78"/>
<rect x="405.94" y="229.8" width="1.84" height="3.7" fill="#1a9e8c"/>
<line x1="409.59" y1="203.6" x2="409.59" y2="245.5" stroke="#1a9e8c" stroke-width="0.9" stroke-opacity="0.78"/>
<rect x="408.67" y="227.7" width="1.84" height="2.3" fill="#1a9e8c"/>
<line x1="412.32" y1="217.2" x2="412.32" y2="268.5" stroke="#ef4444" stroke-width="0.9" stroke-opacity="0.78"/>
<rect x="411.40" y="230.0" width="1.84" height="34.0" fill="#ef4444"/>
<line x1="415.06" y1="216.5" x2="415.06" y2="264.5" stroke="#1a9e8c" stroke-width="0.9" stroke-opacity="0.78"/>
<rect x="414.14" y="236.7" width="1.84" height="27.3" fill="#1a9e8c"/>
<line x1="417.79" y1="235.0" x2="417.79" y2="271.5" stroke="#ef4444" stroke-width="0.9" stroke-opacity="0.78"/>
<rect x="416.87" y="235.2" width="1.84" height="24.3" fill="#ef4444"/>
<line x1="420.53" y1="220.2" x2="420.53" y2="260.0" stroke="#1a9e8c" stroke-width="0.9" stroke-opacity="0.78"/>
<rect x="419.61" y="234.5" width="1.84" height="25.0" fill="#1a9e8c"/>
<line x1="423.26" y1="193.2" x2="423.26" y2="268.5" stroke="#1a9e8c" stroke-width="0.9" stroke-opacity="0.78"/>
<rect x="422.34" y="211.2" width="1.84" height="39.3" fill="#1a9e8c"/>
<line x1="425.99" y1="211.0" x2="425.99" y2="274.5" stroke="#ef4444" stroke-width="0.9" stroke-opacity="0.78"/>
<rect x="425.07" y="212.0" width="1.84" height="43.7" fill="#ef4444"/>
<line x1="428.73" y1="224.0" x2="428.73" y2="270.0" stroke="#ef4444" stroke-width="0.9" stroke-opacity="0.78"/>
<rect x="427.81" y="234.5" width="1.84" height="28.0" fill="#ef4444"/>
<line x1="431.46" y1="178.2" x2="431.46" y2="303.7" stroke="#1a9e8c" stroke-width="0.9" stroke-opacity="0.78"/>
<rect x="430.54" y="198.5" width="1.84" height="64.0" fill="#1a9e8c"/>
<line x1="434.20" y1="156.5" x2="434.20" y2="212.0" stroke="#1a9e8c" stroke-width="0.9" stroke-opacity="0.78"/>
<rect x="433.28" y="169.2" width="1.84" height="28.5" fill="#1a9e8c"/>
<line x1="436.93" y1="167.7" x2="436.93" y2="194.7" stroke="#ef4444" stroke-width="0.9" stroke-opacity="0.78"/>
<rect x="436.01" y="170.0" width="1.84" height="22.5" fill="#ef4444"/>
<line x1="439.66" y1="160.2" x2="439.66" y2="192.0" stroke="#1a9e8c" stroke-width="0.9" stroke-opacity="0.78"/>
<rect x="438.74" y="179.0" width="1.84" height="12.7" fill="#1a9e8c"/>
<line x1="442.40" y1="178.2" x2="442.40" y2="215.7" stroke="#ef4444" stroke-width="0.9" stroke-opacity="0.78"/>
<rect x="441.48" y="179.0" width="1.84" height="26.2" fill="#ef4444"/>
<line x1="445.13" y1="179.7" x2="445.13" y2="206.5" stroke="#1a9e8c" stroke-width="0.9" stroke-opacity="0.78"/>
<rect x="444.21" y="185.7" width="1.84" height="20.3" fill="#1a9e8c"/>
<line x1="447.87" y1="176.7" x2="447.87" y2="200.5" stroke="#ef4444" stroke-width="0.9" stroke-opacity="0.78"/>
<rect x="446.95" y="185.7" width="1.84" height="14.3" fill="#ef4444"/>
<line x1="450.60" y1="173.5" x2="450.60" y2="200.5" stroke="#1a9e8c" stroke-width="0.9" stroke-opacity="0.78"/>
<rect x="449.68" y="180.5" width="1.84" height="19.5" fill="#1a9e8c"/>
<line x1="453.33" y1="179.7" x2="453.33" y2="217.2" stroke="#ef4444" stroke-width="0.9" stroke-opacity="0.78"/>
<rect x="452.41" y="180.5" width="1.84" height="33.0" fill="#ef4444"/>
<line x1="456.07" y1="163.2" x2="456.07" y2="216.5" stroke="#1a9e8c" stroke-width="0.9" stroke-opacity="0.78"/>
<rect x="455.15" y="189.5" width="1.84" height="24.0" fill="#1a9e8c"/>
<line x1="458.80" y1="185.7" x2="458.80" y2="227.7" stroke="#ef4444" stroke-width="0.9" stroke-opacity="0.78"/>
<rect x="457.88" y="189.5" width="1.84" height="22.5" fill="#ef4444"/>
<line x1="461.54" y1="167.7" x2="461.54" y2="214.2" stroke="#1a9e8c" stroke-width="0.9" stroke-opacity="0.78"/>
<rect x="460.62" y="184.2" width="1.84" height="27.0" fill="#1a9e8c"/>
<line x1="464.27" y1="109.2" x2="464.27" y2="187.2" stroke="#1a9e8c" stroke-width="0.9" stroke-opacity="0.78"/>
<rect x="463.35" y="129.5" width="1.84" height="54.7" fill="#1a9e8c"/>
<line x1="467.00" y1="117.5" x2="467.00" y2="158.0" stroke="#ef4444" stroke-width="0.9" stroke-opacity="0.78"/>
<rect x="466.08" y="129.5" width="1.84" height="18.7" fill="#ef4444"/>
<line x1="469.74" y1="137.7" x2="469.74" y2="169.2" stroke="#ef4444" stroke-width="0.9" stroke-opacity="0.78"/>
<rect x="468.82" y="148.2" width="1.84" height="18.0" fill="#ef4444"/>
<line x1="472.47" y1="121.2" x2="472.47" y2="166.5" stroke="#1a9e8c" stroke-width="0.9" stroke-opacity="0.78"/>
<rect x="471.55" y="137.7" width="1.84" height="28.5" fill="#1a9e8c"/>
<line x1="475.21" y1="112.2" x2="475.21" y2="156.5" stroke="#1a9e8c" stroke-width="0.9" stroke-opacity="0.78"/>
<rect x="474.29" y="119.7" width="1.84" height="18.0" fill="#1a9e8c"/>
<line x1="477.94" y1="112.2" x2="477.94" y2="146.7" stroke="#ef4444" stroke-width="0.9" stroke-opacity="0.78"/>
<rect x="477.02" y="119.7" width="1.84" height="24.0" fill="#ef4444"/>
<line x1="480.67" y1="128.7" x2="480.67" y2="154.2" stroke="#1a9e8c" stroke-width="0.9" stroke-opacity="0.78"/>
<rect x="479.75" y="136.2" width="1.84" height="7.5" fill="#1a9e8c"/>
<line x1="483.41" y1="131.7" x2="483.41" y2="167.0" stroke="#ef4444" stroke-width="0.9" stroke-opacity="0.78"/>
<rect x="482.49" y="136.2" width="1.84" height="15.0" fill="#ef4444"/>
<line x1="486.14" y1="146.0" x2="486.14" y2="175.5" stroke="#1a9e8c" stroke-width="0.9" stroke-opacity="0.78"/>
<rect x="485.22" y="149.0" width="1.84" height="2.2" fill="#1a9e8c"/>
<line x1="488.88" y1="132.5" x2="488.88" y2="155.7" stroke="#1a9e8c" stroke-width="0.9" stroke-opacity="0.78"/>
<rect x="487.96" y="139.2" width="1.84" height="9.8" fill="#1a9e8c"/>
<line x1="491.61" y1="134.0" x2="491.61" y2="155.0" stroke="#ef4444" stroke-width="0.9" stroke-opacity="0.78"/>
<rect x="490.69" y="139.2" width="1.84" height="3.0" fill="#ef4444"/>
<line x1="494.34" y1="135.5" x2="494.34" y2="173.0" stroke="#ef4444" stroke-width="0.9" stroke-opacity="0.78"/>
<rect x="493.42" y="142.2" width="1.84" height="29.3" fill="#ef4444"/>
<line x1="497.08" y1="149.7" x2="497.08" y2="215.7" stroke="#ef4444" stroke-width="0.9" stroke-opacity="0.78"/>
<rect x="496.16" y="169.0" width="1.84" height="27.2" fill="#ef4444"/>
<line x1="499.81" y1="169.2" x2="499.81" y2="205.2" stroke="#1a9e8c" stroke-width="0.9" stroke-opacity="0.78"/>
<rect x="498.89" y="183.5" width="1.84" height="12.7" fill="#1a9e8c"/>
<line x1="502.55" y1="155.0" x2="502.55" y2="188.0" stroke="#1a9e8c" stroke-width="0.9" stroke-opacity="0.78"/>
<rect x="501.63" y="182.0" width="1.84" height="2.2" fill="#1a9e8c"/>
<line x1="505.28" y1="132.5" x2="505.28" y2="204.5" stroke="#1a9e8c" stroke-width="0.9" stroke-opacity="0.78"/>
<rect x="504.36" y="158.7" width="1.84" height="23.3" fill="#1a9e8c"/>
<line x1="508.01" y1="79.7" x2="508.01" y2="168.5" stroke="#1a9e8c" stroke-width="0.9" stroke-opacity="0.78"/>
<rect x="507.09" y="87.6" width="1.84" height="71.9" fill="#1a9e8c"/>
<line x1="510.75" y1="85.9" x2="510.75" y2="131.7" stroke="#ef4444" stroke-width="0.9" stroke-opacity="0.78"/>
<rect x="509.83" y="87.6" width="1.84" height="39.4" fill="#ef4444"/>
<line x1="513.48" y1="114.2" x2="513.48" y2="145.5" stroke="#ef4444" stroke-width="0.9" stroke-opacity="0.78"/>
<rect x="512.56" y="127.0" width="1.84" height="2.0" fill="#ef4444"/>
<line x1="516.22" y1="120.3" x2="516.22" y2="150.5" stroke="#ef4444" stroke-width="0.9" stroke-opacity="0.78"/>
<rect x="515.30" y="128.6" width="1.84" height="1.4" fill="#ef4444"/>
<line x1="518.95" y1="124.8" x2="518.95" y2="155.0" stroke="#ef4444" stroke-width="0.9" stroke-opacity="0.78"/>
<rect x="518.03" y="129.3" width="1.84" height="22.2" fill="#ef4444"/>
<line x1="521.68" y1="151.0" x2="521.68" y2="162.2" stroke="#ef4444" stroke-width="0.9" stroke-opacity="0.78"/>
<rect x="520.76" y="151.7" width="1.84" height="5.3" fill="#ef4444"/>
<line x1="524.42" y1="117.2" x2="524.42" y2="157.5" stroke="#1a9e8c" stroke-width="0.9" stroke-opacity="0.78"/>
<rect x="523.50" y="130.0" width="1.84" height="27.0" fill="#1a9e8c"/>
<line x1="527.15" y1="100.3" x2="527.15" y2="131.0" stroke="#1a9e8c" stroke-width="0.9" stroke-opacity="0.78"/>
<rect x="526.23" y="124.0" width="1.84" height="6.7" fill="#1a9e8c"/>
<line x1="529.89" y1="86.5" x2="529.89" y2="125.0" stroke="#1a9e8c" stroke-width="0.9" stroke-opacity="0.78"/>
<rect x="528.97" y="89.3" width="1.84" height="35.4" fill="#1a9e8c"/>
<line x1="532.62" y1="71.8" x2="532.62" y2="104.5" stroke="#ef4444" stroke-width="0.9" stroke-opacity="0.78"/>
<rect x="531.70" y="89.3" width="1.84" height="1.7" fill="#ef4444"/>
<line x1="535.35" y1="85.3" x2="535.35" y2="127.0" stroke="#ef4444" stroke-width="0.9" stroke-opacity="0.78"/>
<rect x="534.43" y="90.5" width="1.84" height="29.0" fill="#ef4444"/>
<line x1="538.09" y1="108.0" x2="538.09" y2="128.5" stroke="#ef4444" stroke-width="0.9" stroke-opacity="0.78"/>
<rect x="537.17" y="119.5" width="1.84" height="4.5" fill="#ef4444"/>
<line x1="540.82" y1="114.2" x2="540.82" y2="127.0" stroke="#1a9e8c" stroke-width="0.9" stroke-opacity="0.78"/>
<rect x="539.90" y="118.7" width="1.84" height="5.3" fill="#1a9e8c"/>
<line x1="543.56" y1="109.7" x2="543.56" y2="131.5" stroke="#ef4444" stroke-width="0.9" stroke-opacity="0.78"/>
<rect x="542.64" y="118.7" width="1.84" height="8.3" fill="#ef4444"/>
<line x1="546.29" y1="95.4" x2="546.29" y2="135.2" stroke="#1a9e8c" stroke-width="0.9" stroke-opacity="0.78"/>
<rect x="545.37" y="106.7" width="1.84" height="24.8" fill="#1a9e8c"/>
<line x1="549.02" y1="40.2" x2="549.02" y2="106.5" stroke="#1a9e8c" stroke-width="0.9" stroke-opacity="0.78"/>
<rect x="548.10" y="51.5" width="1.84" height="54.5" fill="#1a9e8c"/>
<line x1="551.76" y1="42.5" x2="551.76" y2="74.7" stroke="#ef4444" stroke-width="0.9" stroke-opacity="0.78"/>
<rect x="550.84" y="51.5" width="1.84" height="19.5" fill="#ef4444"/>
<line x1="554.49" y1="32.7" x2="554.49" y2="71.5" stroke="#1a9e8c" stroke-width="0.9" stroke-opacity="0.78"/>
<rect x="553.57" y="62.7" width="1.84" height="8.3" fill="#1a9e8c"/>
<line x1="557.23" y1="47.7" x2="557.23" y2="88.2" stroke="#ef4444" stroke-width="0.9" stroke-opacity="0.78"/>
<rect x="556.31" y="62.7" width="1.84" height="9.0" fill="#ef4444"/>
<line x1="559.96" y1="71.5" x2="559.96" y2="90.5" stroke="#ef4444" stroke-width="0.9" stroke-opacity="0.78"/>
<rect x="559.04" y="71.7" width="1.84" height="10.5" fill="#ef4444"/>
<line x1="562.69" y1="52.2" x2="562.69" y2="94.2" stroke="#1a9e8c" stroke-width="0.9" stroke-opacity="0.78"/>
<rect x="561.77" y="79.2" width="1.84" height="3.0" fill="#1a9e8c"/>
<line x1="565.43" y1="66.5" x2="565.43" y2="86.7" stroke="#1a9e8c" stroke-width="0.9" stroke-opacity="0.78"/>
<rect x="564.51" y="75.5" width="1.84" height="3.7" fill="#1a9e8c"/>
<line x1="568.16" y1="56.7" x2="568.16" y2="76.0" stroke="#1a9e8c" stroke-width="0.9" stroke-opacity="0.78"/>
<rect x="567.24" y="64.2" width="1.84" height="11.3" fill="#1a9e8c"/>
<line x1="570.90" y1="36.5" x2="570.90" y2="65.0" stroke="#1a9e8c" stroke-width="0.9" stroke-opacity="0.78"/>
<rect x="569.98" y="58.2" width="1.84" height="6.0" fill="#1a9e8c"/>
<line x1="573.63" y1="43.2" x2="573.63" y2="101.5" stroke="#ef4444" stroke-width="0.9" stroke-opacity="0.78"/>
<rect x="572.71" y="58.2" width="1.84" height="33.3" fill="#ef4444"/>
<line x1="576.36" y1="86.0" x2="576.36" y2="111.2" stroke="#ef4444" stroke-width="0.9" stroke-opacity="0.78"/>
<rect x="575.44" y="91.7" width="1.84" height="5.3" fill="#ef4444"/>
<line x1="579.10" y1="94.0" x2="579.10" y2="125.5" stroke="#ef4444" stroke-width="0.9" stroke-opacity="0.78"/>
<rect x="578.18" y="97.0" width="1.84" height="24.0" fill="#ef4444"/>
<line x1="581.83" y1="80.7" x2="581.83" y2="148.7" stroke="#ef4444" stroke-width="0.9" stroke-opacity="0.78"/>
<rect x="580.91" y="121.0" width="1.84" height="7.5" fill="#ef4444"/>
<line x1="584.57" y1="110.5" x2="584.57" y2="131.5" stroke="#1a9e8c" stroke-width="0.9" stroke-opacity="0.78"/>
<rect x="583.65" y="118.7" width="1.84" height="9.8" fill="#1a9e8c"/>
<line x1="587.30" y1="114.2" x2="587.30" y2="130.0" stroke="#ef4444" stroke-width="0.9" stroke-opacity="0.78"/>
<rect x="586.38" y="118.7" width="1.84" height="6.8" fill="#ef4444"/>
<line x1="590.03" y1="115.0" x2="590.03" y2="131.5" stroke="#ef4444" stroke-width="0.9" stroke-opacity="0.78"/>
<rect x="589.11" y="125.5" width="1.84" height="3.0" fill="#ef4444"/>
<line x1="592.77" y1="127.0" x2="592.77" y2="163.0" stroke="#ef4444" stroke-width="0.9" stroke-opacity="0.78"/>
<rect x="591.85" y="128.5" width="1.84" height="9.0" fill="#ef4444"/>
<line x1="595.50" y1="133.0" x2="595.50" y2="161.5" stroke="#ef4444" stroke-width="0.9" stroke-opacity="0.78"/>
<rect x="594.58" y="137.5" width="1.84" height="12.7" fill="#ef4444"/>
<line x1="598.24" y1="124.0" x2="598.24" y2="153.2" stroke="#1a9e8c" stroke-width="0.9" stroke-opacity="0.78"/>
<rect x="597.32" y="136.0" width="1.84" height="15.0" fill="#1a9e8c"/>
<line x1="600.97" y1="117.2" x2="600.97" y2="136.5" stroke="#1a9e8c" stroke-width="0.9" stroke-opacity="0.78"/>
<rect x="600.05" y="121.7" width="1.84" height="14.3" fill="#1a9e8c"/>
<line x1="603.70" y1="118.0" x2="603.70" y2="133.0" stroke="#ef4444" stroke-width="0.9" stroke-opacity="0.78"/>
<rect x="602.78" y="120.2" width="1.84" height="2.3" fill="#ef4444"/>
<line x1="606.44" y1="119.5" x2="606.44" y2="128.0" stroke="#ef4444" stroke-width="0.9" stroke-opacity="0.78"/>
<rect x="605.52" y="122.5" width="1.84" height="3.7" fill="#ef4444"/>
<line x1="609.17" y1="123.2" x2="609.17" y2="161.5" stroke="#ef4444" stroke-width="0.9" stroke-opacity="0.78"/>
<rect x="608.25" y="124.0" width="1.84" height="27.7" fill="#ef4444"/>
<line x1="611.91" y1="138.2" x2="611.91" y2="152.0" stroke="#1a9e8c" stroke-width="0.9" stroke-opacity="0.78"/>
<rect x="610.99" y="144.2" width="1.84" height="7.5" fill="#1a9e8c"/>
<line x1="614.64" y1="112.7" x2="614.64" y2="144.0" stroke="#1a9e8c" stroke-width="0.9" stroke-opacity="0.78"/>
<rect x="613.72" y="121.0" width="1.84" height="22.5" fill="#1a9e8c"/>
<line x1="617.37" y1="115.7" x2="617.37" y2="130.7" stroke="#ef4444" stroke-width="0.9" stroke-opacity="0.78"/>
<rect x="616.45" y="120.2" width="1.84" height="8.3" fill="#ef4444"/>
<line x1="620.11" y1="128.0" x2="620.11" y2="180.0" stroke="#ef4444" stroke-width="0.9" stroke-opacity="0.78"/>
<rect x="619.19" y="128.5" width="1.84" height="44.7" fill="#ef4444"/>
<line x1="622.84" y1="167.2" x2="622.84" y2="198.0" stroke="#ef4444" stroke-width="0.9" stroke-opacity="0.78"/>
<rect x="621.92" y="173.2" width="1.84" height="1.5" fill="#ef4444"/>
<line x1="625.58" y1="174.0" x2="625.58" y2="278.5" stroke="#ef4444" stroke-width="0.9" stroke-opacity="0.78"/>
<rect x="624.66" y="174.7" width="1.84" height="55.0" fill="#ef4444"/>
<line x1="628.31" y1="191.0" x2="628.31" y2="232.0" stroke="#1a9e8c" stroke-width="0.9" stroke-opacity="0.78"/>
<rect x="627.39" y="192.0" width="1.84" height="37.7" fill="#1a9e8c"/>
<line x1="631.04" y1="185.2" x2="631.04" y2="241.0" stroke="#1a9e8c" stroke-width="0.9" stroke-opacity="0.78"/>
<rect x="630.12" y="191.2" width="1.84" height="28.5" fill="#1a9e8c"/>
<line x1="633.78" y1="188.2" x2="633.78" y2="227.2" stroke="#ef4444" stroke-width="0.9" stroke-opacity="0.78"/>
<rect x="632.86" y="191.2" width="1.84" height="15.0" fill="#ef4444"/>
<line x1="636.51" y1="190.5" x2="636.51" y2="220.5" stroke="#1a9e8c" stroke-width="0.9" stroke-opacity="0.78"/>
<rect x="635.59" y="199.5" width="1.84" height="6.7" fill="#1a9e8c"/>
<line x1="639.25" y1="188.2" x2="639.25" y2="296.5" stroke="#ef4444" stroke-width="0.9" stroke-opacity="0.78"/>
<rect x="638.33" y="199.5" width="1.84" height="95.8" fill="#ef4444"/>
<line x1="641.98" y1="187.5" x2="641.98" y2="332.2" stroke="#1a9e8c" stroke-width="0.9" stroke-opacity="0.78"/>
<rect x="641.06" y="210.7" width="1.84" height="84.6" fill="#1a9e8c"/>
<line x1="644.71" y1="189.7" x2="644.71" y2="221.2" stroke="#1a9e8c" stroke-width="0.9" stroke-opacity="0.78"/>
<rect x="643.79" y="208.5" width="1.84" height="3.0" fill="#1a9e8c"/>
<line x1="647.45" y1="189.7" x2="647.45" y2="218.2" stroke="#1a9e8c" stroke-width="0.9" stroke-opacity="0.78"/>
<rect x="646.53" y="206.2" width="1.84" height="3.0" fill="#1a9e8c"/>
<line x1="650.18" y1="193.5" x2="650.18" y2="225.0" stroke="#1a9e8c" stroke-width="0.9" stroke-opacity="0.78"/>
<rect x="649.26" y="198.7" width="1.84" height="8.3" fill="#1a9e8c"/>
<line x1="652.92" y1="198.0" x2="652.92" y2="220.5" stroke="#ef4444" stroke-width="0.9" stroke-opacity="0.78"/>
<rect x="652.00" y="198.7" width="1.84" height="10.5" fill="#ef4444"/>
<line x1="655.65" y1="205.5" x2="655.65" y2="229.0" stroke="#ef4444" stroke-width="0.9" stroke-opacity="0.78"/>
<rect x="654.73" y="209.2" width="1.84" height="10.5" fill="#ef4444"/>
<line x1="658.38" y1="214.5" x2="658.38" y2="245.5" stroke="#ef4444" stroke-width="0.9" stroke-opacity="0.78"/>
<rect x="657.46" y="219.7" width="1.84" height="15.3" fill="#ef4444"/>
<line x1="661.12" y1="154.4" x2="661.12" y2="239.5" stroke="#1a9e8c" stroke-width="0.9" stroke-opacity="0.78"/>
<rect x="660.20" y="161.8" width="1.84" height="73.2" fill="#1a9e8c"/>
<line x1="663.85" y1="152.0" x2="663.85" y2="168.5" stroke="#ef4444" stroke-width="0.9" stroke-opacity="0.78"/>
<rect x="662.93" y="161.8" width="1.84" height="2.0" fill="#ef4444"/>
<line x1="666.59" y1="158.2" x2="666.59" y2="177.5" stroke="#ef4444" stroke-width="0.9" stroke-opacity="0.78"/>
<rect x="665.67" y="162.7" width="1.84" height="12.3" fill="#ef4444"/>
<line x1="669.32" y1="140.2" x2="669.32" y2="175.5" stroke="#1a9e8c" stroke-width="0.9" stroke-opacity="0.78"/>
<rect x="668.40" y="155.3" width="1.84" height="19.7" fill="#1a9e8c"/>
<line x1="672.05" y1="146.0" x2="672.05" y2="178.3" stroke="#ef4444" stroke-width="0.9" stroke-opacity="0.78"/>
<rect x="671.13" y="155.3" width="1.84" height="7.4" fill="#ef4444"/>
<line x1="674.79" y1="153.7" x2="674.79" y2="178.0" stroke="#ef4444" stroke-width="0.9" stroke-opacity="0.78"/>
<rect x="673.87" y="162.1" width="1.84" height="6.7" fill="#ef4444"/>
<line x1="677.52" y1="160.0" x2="677.52" y2="192.0" stroke="#1a9e8c" stroke-width="0.9" stroke-opacity="0.78"/>
<rect x="676.60" y="165.8" width="1.84" height="3.0" fill="#1a9e8c"/>
<line x1="680.26" y1="161.0" x2="680.26" y2="189.7" stroke="#ef4444" stroke-width="0.9" stroke-opacity="0.78"/>
<rect x="679.34" y="165.8" width="1.84" height="16.7" fill="#ef4444"/>
</g>
<line x1="488.4" y1="33" x2="755.5" y2="33" stroke="#1111e6" stroke-width="2" stroke-dasharray="9 10.4"/>
<line x1="281" y1="80.7" x2="755.5" y2="80.7" stroke="#1111e6" stroke-width="2" stroke-dasharray="9 10.4"/>
<line x1="302.7" y1="308.2" x2="755.5" y2="308.2" stroke="#1111e6" stroke-width="2" stroke-dasharray="9 10.4"/>
<polyline points="5.5,401.2 10.0,397.5 17.5,398.7 25.0,398.0 32.5,397.0 40.0,397.5 47.5,399.5 55.0,400.0 62.5,398.2 70.0,398.7 77.5,401.2 85.0,403.7 92.5,405.5 100.0,406.2 107.5,403.7 113.7,400.0 120.0,397.5 126.2,400.0 132.5,403.0 140.0,403.7 147.5,405.0 155.0,407.5 162.5,407.0 170.0,407.5 177.5,411.2 185.0,413.7 190.0,415.5 194.0,418.4 199.5,423.6 205.4,426.4 210.5,426.4 215.6,424.9 221.8,424.3 227.9,420.8 234.0,417.1 240.2,414.0 246.4,412.0 253.5,410.0 259.7,411.0 265.8,414.0 272.0,419.2 278.1,425.3 284.3,430.4 290.4,433.1 296.6,433.9 302.7,432.5 308.9,429.0 315.0,425.3 321.1,425.3 327.3,427.4 333.4,435.6 339.6,445.0 344.1,450.9 348.2,456.1 351.3,458.1 355.4,454.0 360.5,448.9 366.6,441.7 372.8,434.5 378.9,428.4 385.1,425.3 391.2,424.9 397.4,425.7 403.5,429.4 409.7,431.5 415.8,434.5 422.0,435.2 428.1,433.5 434.3,429.4 440.4,426.4 446.6,424.9 452.7,422.3 458.9,419.2 465.0,415.1 471.1,412.6 477.3,411.0 483.4,410.6 489.6,409.5 496.1,412.0 502.3,414.7 508.4,415.5 514.6,416.1 520.7,416.7 526.9,417.1 533.0,414.0 539.2,412.6 545.3,411.0 551.5,407.9 557.6,405.9 563.8,404.4 569.9,403.2 576.1,404.8 582.2,408.9 588.4,415.1 594.5,422.3 600.7,426.4 606.8,431.5 613.0,435.6 619.1,438.2 625.4,442.2 631.3,445.0 636.9,447.4 642.3,449.3 647.9,450.4 653.5,450.4 658.2,448.9 661.9,445.2 666.6,439.6 672.1,434.0 676.8,429.9 680.2,427.5" fill="none" stroke="#f3dc8c" stroke-width="1.3" stroke-opacity="0.85" stroke-linejoin="round" stroke-linecap="round" />
<polyline points="6.8,375.0 10.0,397.5 12.0,401.0 15.0,411.0 18.0,406.0 20.8,413.8 23.8,397.5 26.2,394.5 29.2,386.0 31.8,397.5 34.5,391.0 37.5,390.8 40.0,395.0 42.5,390.0 48.8,413.8 51.2,410.0 53.8,408.8 59.5,401.0 62.0,392.0 64.5,390.0 67.5,382.5 70.0,407.5 72.5,406.8 75.0,410.0 78.2,417.0 83.8,415.5 86.2,403.0 89.2,403.8 92.0,380.0 95.0,405.0 97.5,404.0 100.5,416.0 103.0,416.0 106.2,388.8 108.8,387.5 111.2,373.8 114.2,390.0 116.8,396.0 119.2,385.0 125.0,421.0 127.8,430.8 132.5,403.8 135.8,415.5 139.2,405.0 141.8,402.5 143.8,402.0 147.0,413.0 151.2,408.8 155.0,390.0 157.5,391.0 160.8,407.0 163.8,407.5 168.8,415.0 173.8,435.0 176.8,427.5 179.2,431.0 182.0,405.8 187.5,415.0 190.5,438.0 192.5,434.5 195.1,433.5 198.2,429.4 201.3,443.8 203.9,430.5 206.8,434.5 209.9,433.9 212.5,410.0 215.0,402.4 217.7,413.0 220.3,403.8 223.4,410.0 226.3,407.3 228.9,416.1 232.0,420.6 234.7,420.6 237.1,412.0 239.8,411.0 242.3,410.6 244.9,408.5 247.8,415.1 250.5,412.4 253.1,399.7 256.2,395.0 258.6,416.1 261.3,420.2 264.2,421.8 266.8,440.7 269.5,447.5 272.4,447.9 275.0,459.1 278.1,448.9 280.8,450.9 283.2,439.7 286.3,436.0 289.0,435.6 291.4,410.0 294.1,408.5 297.0,399.7 299.6,415.5 302.3,412.6 305.4,409.3 307.8,427.4 310.9,422.9 313.6,425.7 316.4,464.7 319.1,469.4 321.8,440.7 324.6,436.6 327.3,440.7 330.0,448.9 332.8,457.1 335.5,469.8 338.0,470.4 340.6,468.0 343.4,462.7 346.1,460.2 348.7,463.2 351.3,458.1 354.3,438.6 357.0,435.2 359.9,403.8 362.5,406.9 365.2,405.9 368.1,407.3 370.7,418.2 373.8,422.3 376.5,410.0 379.3,424.3 382.0,440.7 385.1,453.6 387.5,447.5 390.2,455.0 392.9,429.8 395.3,436.6 398.0,432.5 400.9,425.3 403.5,431.1 406.2,430.5 409.1,429.4 411.7,445.8 414.4,431.1 417.3,440.1 419.9,436.6 423.0,417.5 425.7,435.6 428.5,438.6 431.2,412.0 433.9,403.8 436.7,412.0 439.4,408.9 442.0,419.2 444.9,413.0 447.6,417.5 450.2,411.4 453.1,424.9 455.8,416.7 458.4,424.9 460.9,415.1 463.6,397.7 466.6,405.2 469.5,413.0 472.2,404.8 474.8,399.1 477.7,408.5 480.4,406.9 483.0,413.0 485.9,412.6 488.6,408.9 491.6,410.6 494.2,422.3 496.9,435.2 499.7,429.4 502.3,429.0 505.0,417.1 507.8,391.5 510.5,410.0 513.2,411.0 516.0,411.4 518.7,421.2 521.4,423.3 524.2,413.0 526.9,408.9 529.5,396.6 532.6,397.0 535.1,413.0 538.2,415.1 540.8,413.0 543.3,417.1 545.9,407.9 549.0,387.4 551.5,396.6 554.1,395.6 557.0,400.7 559.7,406.9 562.7,405.2 565.4,404.4 567.9,398.7 570.5,395.6 573.4,418.2 576.1,422.9 578.7,434.5 581.6,439.3 584.3,432.5 586.9,435.6 589.8,437.6 592.5,442.7 595.5,449.9 598.2,438.6 600.7,427.0 603.3,429.4 606.2,431.5 608.9,446.8 611.5,441.7 614.4,422.9 617.0,430.5 619.7,453.3 622.2,453.9 625.2,474.2 627.8,466.5 630.9,448.7 633.4,453.6 636.3,449.8 639.0,478.7 641.8,440.3 644.5,439.4 647.3,438.0 649.9,435.0 652.6,438.7 655.4,443.3 658.2,448.0 661.0,416.9 663.8,417.2 666.6,421.9 669.0,414.5 671.8,417.2 674.6,420.6 677.4,419.7 680.2,428.0" fill="none" stroke="#7452c4" stroke-width="1.7" stroke-opacity="1" stroke-linejoin="round" stroke-linecap="round" />
<circle cx="680.3" cy="359.9" r="5.8" fill="#fff" stroke="#8f3aa6" stroke-width="1.1"/>
<path d="M682.0 357.0 L678.5 360.5 L680.3 360.5 L678.9 362.9 L682.3 359.4 L680.5 359.4 Z" fill="#8a2aa2" stroke="#8a2aa2" stroke-width="0.3" stroke-linejoin="round"/>
<text x="760.6" y="363.1" font-size="7.3" fill="#131722" stroke="#131722" stroke-width="0.0" text-anchor="start" font-weight="normal" textLength="17.6" lengthAdjust="spacingAndGlyphs">400.0</text>
<text x="760.6" y="338.8" font-size="7.3" fill="#131722" stroke="#131722" stroke-width="0.0" text-anchor="start" font-weight="normal" textLength="17.6" lengthAdjust="spacingAndGlyphs">420.0</text>
<text x="760.6" y="314.5" font-size="7.3" fill="#131722" stroke="#131722" stroke-width="0.0" text-anchor="start" font-weight="normal" textLength="17.6" lengthAdjust="spacingAndGlyphs">440.0</text>
<text x="760.6" y="290.2" font-size="7.3" fill="#131722" stroke="#131722" stroke-width="0.0" text-anchor="start" font-weight="normal" textLength="17.6" lengthAdjust="spacingAndGlyphs">460.0</text>
<text x="760.6" y="265.9" font-size="7.3" fill="#131722" stroke="#131722" stroke-width="0.0" text-anchor="start" font-weight="normal" textLength="17.6" lengthAdjust="spacingAndGlyphs">480.0</text>
<text x="760.6" y="241.6" font-size="7.3" fill="#131722" stroke="#131722" stroke-width="0.0" text-anchor="start" font-weight="normal" textLength="17.6" lengthAdjust="spacingAndGlyphs">500.0</text>
<text x="760.6" y="217.3" font-size="7.3" fill="#131722" stroke="#131722" stroke-width="0.0" text-anchor="start" font-weight="normal" textLength="17.6" lengthAdjust="spacingAndGlyphs">520.0</text>
<text x="760.6" y="192.9" font-size="7.3" fill="#131722" stroke="#131722" stroke-width="0.0" text-anchor="start" font-weight="normal" textLength="17.6" lengthAdjust="spacingAndGlyphs">540.0</text>
<text x="760.6" y="168.6" font-size="7.3" fill="#131722" stroke="#131722" stroke-width="0.0" text-anchor="start" font-weight="normal" textLength="17.6" lengthAdjust="spacingAndGlyphs">560.0</text>
<text x="760.6" y="144.3" font-size="7.3" fill="#131722" stroke="#131722" stroke-width="0.0" text-anchor="start" font-weight="normal" textLength="17.6" lengthAdjust="spacingAndGlyphs">580.0</text>
<text x="760.6" y="120.0" font-size="7.3" fill="#131722" stroke="#131722" stroke-width="0.0" text-anchor="start" font-weight="normal" textLength="17.6" lengthAdjust="spacingAndGlyphs">600.0</text>
<text x="760.6" y="95.7" font-size="7.3" fill="#131722" stroke="#131722" stroke-width="0.0" text-anchor="start" font-weight="normal" textLength="17.6" lengthAdjust="spacingAndGlyphs">620.0</text>
<text x="760.6" y="71.4" font-size="7.3" fill="#131722" stroke="#131722" stroke-width="0.0" text-anchor="start" font-weight="normal" textLength="17.6" lengthAdjust="spacingAndGlyphs">640.0</text>
<text x="760.6" y="47.1" font-size="7.3" fill="#131722" stroke="#131722" stroke-width="0.0" text-anchor="start" font-weight="normal" textLength="17.6" lengthAdjust="spacingAndGlyphs">660.0</text>
<text x="760.6" y="379.0" font-size="7.3" fill="#131722" stroke="#131722" stroke-width="0.0" text-anchor="start" font-weight="normal" textLength="17.6" lengthAdjust="spacingAndGlyphs">70.00</text>
<text x="760.6" y="403.0" font-size="7.3" fill="#131722" stroke="#131722" stroke-width="0.0" text-anchor="start" font-weight="normal" textLength="17.6" lengthAdjust="spacingAndGlyphs">60.00</text>
<text x="760.6" y="427.0" font-size="7.3" fill="#131722" stroke="#131722" stroke-width="0.0" text-anchor="start" font-weight="normal" textLength="17.6" lengthAdjust="spacingAndGlyphs">50.00</text>
<text x="760.6" y="451.0" font-size="7.3" fill="#131722" stroke="#131722" stroke-width="0.0" text-anchor="start" font-weight="normal" textLength="17.6" lengthAdjust="spacingAndGlyphs">40.00</text>
<text x="760.6" y="475.0" font-size="7.3" fill="#131722" stroke="#131722" stroke-width="0.0" text-anchor="start" font-weight="normal" textLength="17.6" lengthAdjust="spacingAndGlyphs">30.00</text>
<rect x="757" y="17" width="35" height="16.4" rx="1.5" fill="#fff" stroke="#eceef2" stroke-width="0.8"/>
<text x="762.9" y="29.0" font-size="7.3" fill="#131722" stroke="#131722" stroke-width="0.0" text-anchor="start" font-weight="normal" textLength="16.3" lengthAdjust="spacingAndGlyphs">USDT</text>
<rect x="756" y="35.7" width="25" height="2.2" fill="#1111e6"/>
<rect x="755.8" y="76" width="25.2" height="9.5" fill="#1111e6"/>
<text x="760.6" y="83.4" font-size="7.3" fill="#fff" stroke="#fff" stroke-width="0.16" text-anchor="start" font-weight="normal" textLength="17.6" lengthAdjust="spacingAndGlyphs">631.0</text>
<rect x="755.8" y="304" width="25.2" height="9.2" fill="#1111e6"/>
<text x="760.6" y="311.3" font-size="7.3" fill="#fff" stroke="#fff" stroke-width="0.16" text-anchor="start" font-weight="normal" textLength="17.6" lengthAdjust="spacingAndGlyphs">443.0</text>
<rect x="726.2" y="143.6" width="54.8" height="9.2" fill="#de2c4f"/>
<line x1="755.5" y1="143.6" x2="755.5" y2="152.8" stroke="#fff" stroke-opacity="0.55" stroke-width="0.7"/>
<text x="729.0" y="150.9" font-size="7.3" fill="#fff" stroke="#fff" stroke-width="0.16" text-anchor="start" font-weight="normal" textLength="24.0" lengthAdjust="spacingAndGlyphs">SMA:MA</text>
<text x="760.6" y="150.9" font-size="7.3" fill="#fff" stroke="#fff" stroke-width="0.16" text-anchor="start" font-weight="normal" textLength="17.6" lengthAdjust="spacingAndGlyphs">575.5</text>
<rect x="737" y="168.2" width="44.0" height="9.4" fill="#2962ff"/>
<line x1="755.5" y1="168.2" x2="755.5" y2="177.6" stroke="#fff" stroke-opacity="0.55" stroke-width="0.7"/>
<text x="739.6" y="175.6" font-size="7.3" fill="#fff" stroke="#fff" stroke-width="0.16" text-anchor="start" font-weight="normal" textLength="13.3" lengthAdjust="spacingAndGlyphs">EMA</text>
<text x="760.6" y="175.6" font-size="7.3" fill="#fff" stroke="#fff" stroke-width="0.16" text-anchor="start" font-weight="normal" textLength="17.6" lengthAdjust="spacingAndGlyphs">548.9</text>
<rect x="721.2" y="178" width="33.8" height="9.8" fill="#f0383f"/>
<rect x="756" y="178" width="34.8" height="25.7" fill="#f0383f"/>
<text x="723.6" y="185.6" font-size="7.3" fill="#fff" stroke="#fff" stroke-width="0.16" text-anchor="start" font-weight="normal" textLength="28.6" lengthAdjust="spacingAndGlyphs">BCHUSDT</text>
<text x="760.6" y="185.6" font-size="7.3" fill="#fff" stroke="#fff" stroke-width="0.16" text-anchor="start" font-weight="normal" textLength="17.6" lengthAdjust="spacingAndGlyphs">546.5</text>
<text x="760.6" y="193.9" font-size="7.3" fill="#fff" stroke="#fff" stroke-width="0.16" text-anchor="start" font-weight="normal" textLength="24.5" lengthAdjust="spacingAndGlyphs">+18.88%</text>
<text x="760.6" y="202.2" font-size="7.3" fill="#fff" stroke="#fff" stroke-width="0.16" text-anchor="start" font-weight="normal" textLength="27.2" lengthAdjust="spacingAndGlyphs">08:37:56</text>
<rect x="740.7" y="423.6" width="40.3" height="9.4" fill="#7e57c2"/>
<line x1="755.5" y1="423.6" x2="755.5" y2="433" stroke="#fff" stroke-opacity="0.55" stroke-width="0.7"/>
<text x="743.2" y="431.0" font-size="7.3" fill="#fff" stroke="#fff" stroke-width="0.16" text-anchor="start" font-weight="normal" textLength="9.4" lengthAdjust="spacingAndGlyphs">RSI</text>
<text x="760.6" y="431.0" font-size="7.3" fill="#fff" stroke="#fff" stroke-width="0.16" text-anchor="start" font-weight="normal" textLength="17.6" lengthAdjust="spacingAndGlyphs">48.69</text>
<rect x="709" y="433.0" width="72.0" height="10.2" fill="#fad53e"/>
<text x="711.8" y="440.8" font-size="7.3" fill="#131722" stroke="#131722" stroke-width="0.0" text-anchor="start" font-weight="normal" textLength="41.5" lengthAdjust="spacingAndGlyphs">RSI-based MA</text>
<text x="760.6" y="440.8" font-size="7.3" fill="#131722" stroke="#131722" stroke-width="0.0" text-anchor="start" font-weight="normal" textLength="17.6" lengthAdjust="spacingAndGlyphs">48.45</text>
<text x="40.0" y="496.3" font-size="7.3" fill="#131722" stroke="#131722" stroke-width="0.0" text-anchor="middle" font-weight="normal" textLength="8.4" lengthAdjust="spacingAndGlyphs">Jul</text>
<text x="124.8" y="496.3" font-size="7.3" fill="#131722" stroke="#131722" stroke-width="0.0" text-anchor="middle" font-weight="normal" textLength="11.2" lengthAdjust="spacingAndGlyphs">Aug</text>
<text x="209.5" y="496.3" font-size="7.3" fill="#131722" stroke="#131722" stroke-width="0.0" text-anchor="middle" font-weight="normal" textLength="11.4" lengthAdjust="spacingAndGlyphs">Sep</text>
<text x="291.5" y="496.3" font-size="7.3" fill="#131722" stroke="#131722" stroke-width="0.0" text-anchor="middle" font-weight="normal" textLength="10.2" lengthAdjust="spacingAndGlyphs">Oct</text>
<text x="376.3" y="496.3" font-size="7.3" fill="#131722" stroke="#131722" stroke-width="0.0" text-anchor="middle" font-weight="normal" textLength="11.2" lengthAdjust="spacingAndGlyphs">Nov</text>
<text x="458.3" y="496.3" font-size="7.3" fill="#131722" stroke="#131722" stroke-width="0.0" text-anchor="middle" font-weight="normal" textLength="11.0" lengthAdjust="spacingAndGlyphs">Dec</text>
<text x="543.1" y="496.3" font-size="7.3" fill="#131722" stroke="#131722" stroke-width="0.0" text-anchor="middle" font-weight="bold" textLength="14.6" lengthAdjust="spacingAndGlyphs">2026</text>
<text x="627.8" y="496.3" font-size="7.3" fill="#131722" stroke="#131722" stroke-width="0.0" text-anchor="middle" font-weight="normal" textLength="10.6" lengthAdjust="spacingAndGlyphs">Feb</text>
<text x="704.4" y="496.3" font-size="7.3" fill="#131722" stroke="#131722" stroke-width="0.0" text-anchor="middle" font-weight="normal" textLength="10.8" lengthAdjust="spacingAndGlyphs">Mar</text>
<text x="5.8" y="11.1" font-size="7.2" fill="#131722" stroke="#131722" stroke-width="0.0" text-anchor="start" font-weight="normal" textLength="212.8" lengthAdjust="spacingAndGlyphs">ranadagger created with TradingView.com, Feb 20, 2026 15:22 UTC</text>
<rect x="8" y="19.5" width="281" height="10" fill="#fff" fill-opacity="0.85"/>
<rect x="8" y="29.7" width="75" height="10" fill="#fff" fill-opacity="0.85"/>
<rect x="8" y="39.8" width="75" height="10" fill="#fff" fill-opacity="0.85"/>
<text x="10.8" y="26.5" font-size="7.0" fill="#131722" stroke="#131722" stroke-width="0.0" text-anchor="start" font-weight="normal" textLength="120.7" lengthAdjust="spacingAndGlyphs">Bitcoin Cash / TetherUS · 1D · Binance</text>
<text x="136.2" y="26.5" font-size="7.0" fill="#131722" stroke="#131722" stroke-width="0.0" text-anchor="start" font-weight="normal" textLength="4.2" lengthAdjust="spacingAndGlyphs">O</text>
<text x="140.4" y="26.5" font-size="7.0" fill="#ef4444" stroke="#ef4444" stroke-width="0.0" text-anchor="start" font-weight="normal" textLength="17.4" lengthAdjust="spacingAndGlyphs">560.2</text>
<text x="162.8" y="26.5" font-size="7.0" fill="#131722" stroke="#131722" stroke-width="0.0" text-anchor="start" font-weight="normal" textLength="4.0" lengthAdjust="spacingAndGlyphs">H</text>
<text x="166.9" y="26.5" font-size="7.0" fill="#ef4444" stroke="#ef4444" stroke-width="0.0" text-anchor="start" font-weight="normal" textLength="17.3" lengthAdjust="spacingAndGlyphs">564.5</text>
<text x="189.2" y="26.5" font-size="7.0" fill="#131722" stroke="#131722" stroke-width="0.0" text-anchor="start" font-weight="normal" textLength="3.3" lengthAdjust="spacingAndGlyphs">L</text>
<text x="192.6" y="26.5" font-size="7.0" fill="#ef4444" stroke="#ef4444" stroke-width="0.0" text-anchor="start" font-weight="normal" textLength="17.4" lengthAdjust="spacingAndGlyphs">540.8</text>
<text x="214.7" y="26.5" font-size="7.0" fill="#131722" stroke="#131722" stroke-width="0.0" text-anchor="start" font-weight="normal" textLength="4.0" lengthAdjust="spacingAndGlyphs">C</text>
<text x="218.8" y="26.5" font-size="7.0" fill="#ef4444" stroke="#ef4444" stroke-width="0.0" text-anchor="start" font-weight="normal" textLength="17.3" lengthAdjust="spacingAndGlyphs">546.5</text>
<text x="240.6" y="26.5" font-size="7.0" fill="#ef4444" stroke="#ef4444" stroke-width="0.0" text-anchor="start" font-weight="normal" textLength="16.4" lengthAdjust="spacingAndGlyphs">−13.9</text>
<text x="260.1" y="26.5" font-size="7.0" fill="#ef4444" stroke="#ef4444" stroke-width="0.0" text-anchor="start" font-weight="normal" textLength="26.0" lengthAdjust="spacingAndGlyphs">(−2.48%)</text>
<text x="10.8" y="36.6" font-size="7.0" fill="#131722" stroke="#131722" stroke-width="0.0" text-anchor="start" font-weight="normal" textLength="45.5" lengthAdjust="spacingAndGlyphs">EMA (20, close)</text>
<text x="63.4" y="36.6" font-size="7.0" fill="#2962ff" stroke="#2962ff" stroke-width="0.0" text-anchor="start" font-weight="normal" textLength="17.3" lengthAdjust="spacingAndGlyphs">548.9</text>
<text x="10.8" y="46.7" font-size="7.0" fill="#131722" stroke="#131722" stroke-width="0.0" text-anchor="start" font-weight="normal" textLength="45.5" lengthAdjust="spacingAndGlyphs">SMA (50, close)</text>
<text x="62.9" y="46.7" font-size="7.0" fill="#e5344f" stroke="#e5344f" stroke-width="0.0" text-anchor="start" font-weight="normal" textLength="17.3" lengthAdjust="spacingAndGlyphs">575.5</text>
<text x="10.5" y="379.5" font-size="7.0" fill="#131722" stroke="#131722" stroke-width="0.0" text-anchor="start" font-weight="normal" textLength="44.5" lengthAdjust="spacingAndGlyphs">RSI (14, close)</text>
<text x="58.0" y="379.5" font-size="7.0" fill="#7e57c2" stroke="#7e57c2" stroke-width="0.0" text-anchor="start" font-weight="normal" textLength="18.0" lengthAdjust="spacingAndGlyphs">48.69</text>
<text x="81.2" y="379.5" font-size="7.0" fill="#f1cf4a" stroke="#f1cf4a" stroke-width="0.0" text-anchor="start" font-weight="normal" textLength="18.0" lengthAdjust="spacingAndGlyphs">48.45</text>
<g fill="#0c0e15">
<path d="M7.4 514.7 h7.2 v8.7 h-3.5 v-5.3 h-3.7 z"/>
<circle cx="16.6" cy="516.4" r="1.7"/>
<path d="M19.9 514.7 h4.6 l-3.6 8.7 h-4.4 z"/>
</g>
<text x="29.2" y="523.4" font-size="12.6" fill="#0c0e15" stroke="#0c0e15" stroke-width="0.45" textLength="70.4" lengthAdjust="spacingAndGlyphs">TradingView</text>
</svg>
</body></html>
